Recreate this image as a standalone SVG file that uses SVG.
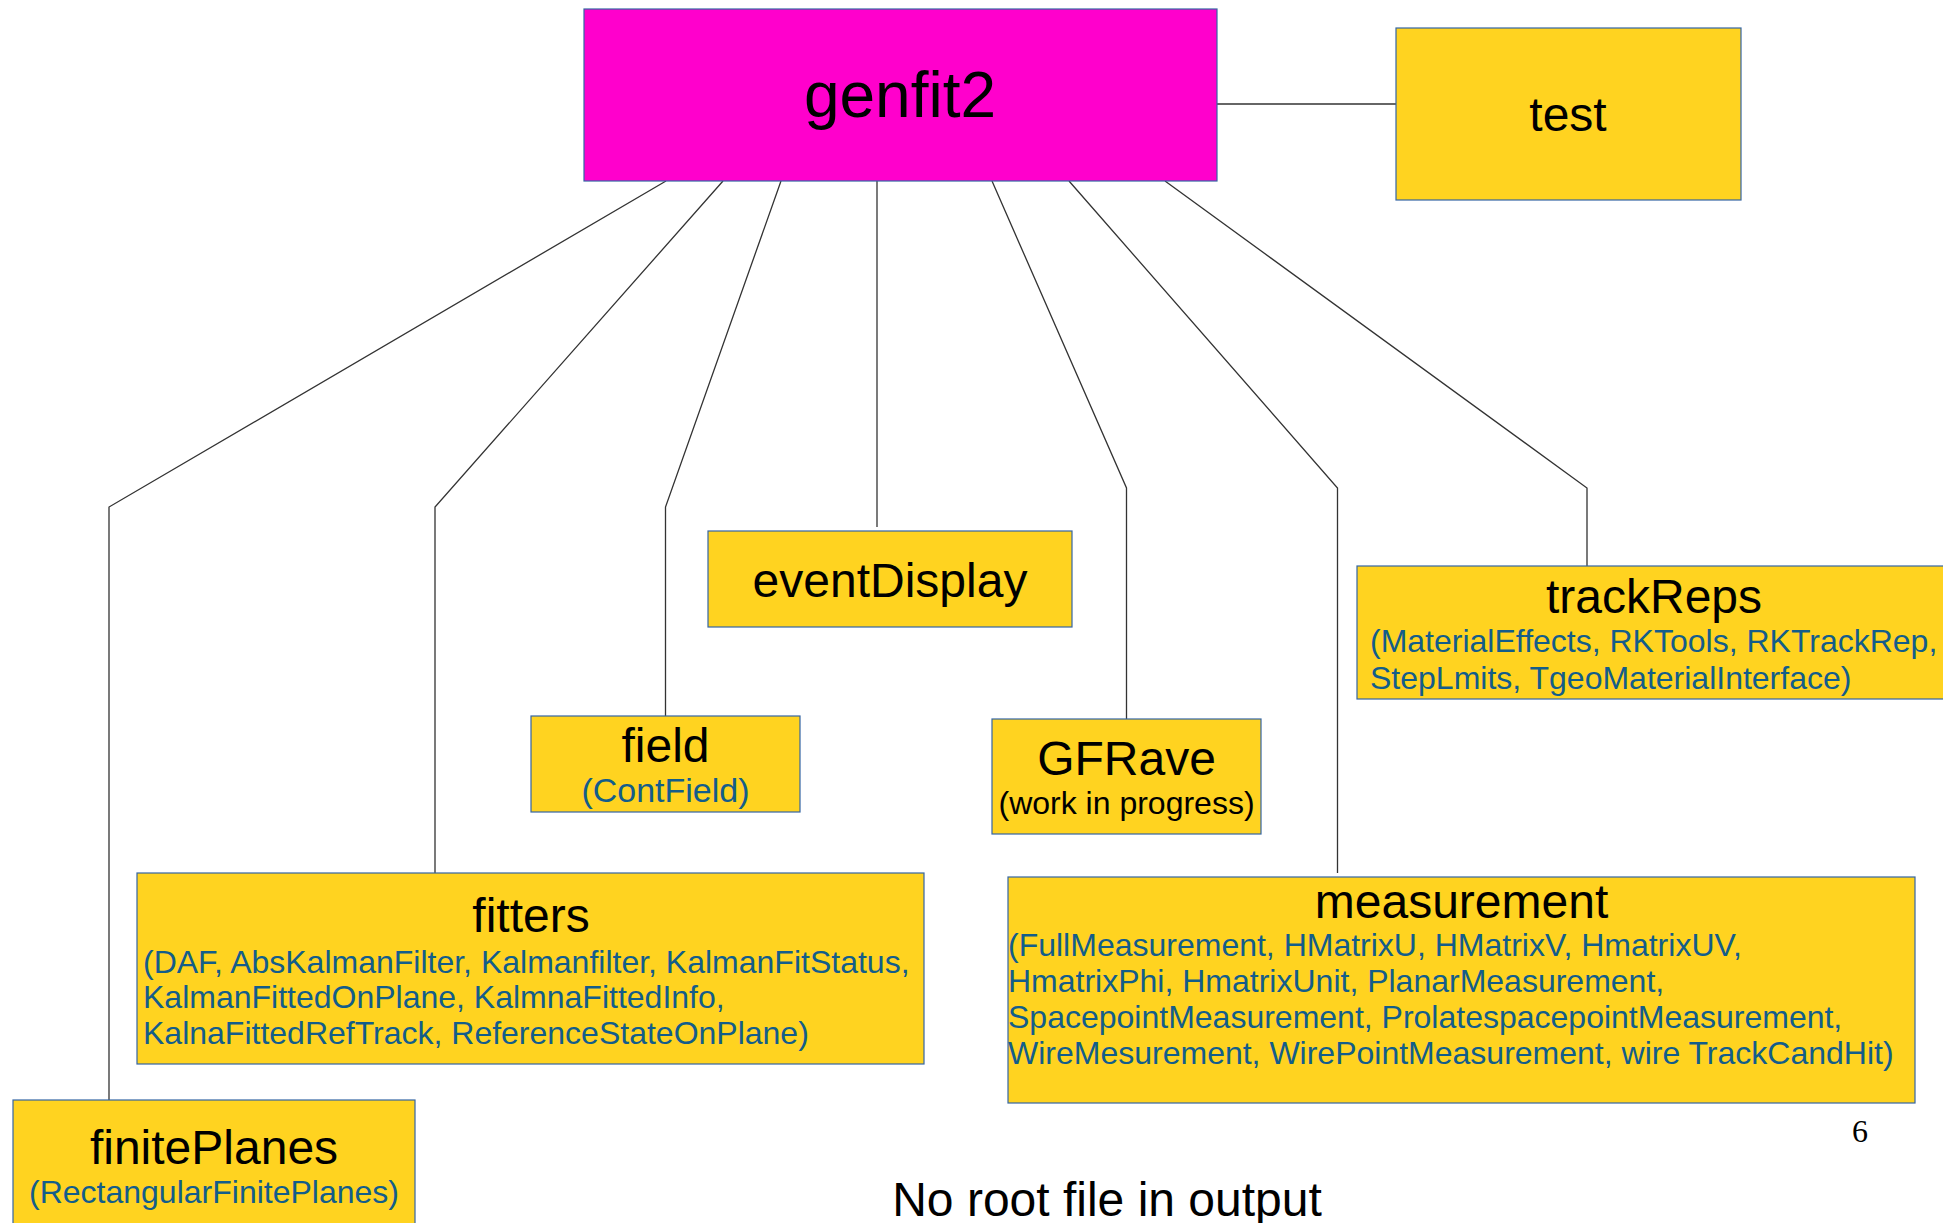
<svg xmlns="http://www.w3.org/2000/svg" width="1943" height="1223" viewBox="0 0 1943 1223">
<style>
  .box{fill:#ffd320;stroke:#3465a4;stroke-width:1.2}
  .root{fill:#ff00cc;stroke:#3465a4;stroke-width:1.2}
  .t{font-family:"Liberation Sans",Arial,sans-serif;fill:#000;text-anchor:middle;font-size:48px}
  .s{font-family:"Liberation Sans",Arial,sans-serif;fill:#135d8a;font-size:32px}
  .c{fill:none;stroke:#333;stroke-width:1.3}
</style>
<rect width="1943" height="1223" fill="#fff"/>
<g id="connectors">
  <polyline class="c" points="1217,104 1396,104"/>
  <polyline class="c" points="666,181 109,507 109,1100"/>
  <polyline class="c" points="723,181 435,507 435,873"/>
  <polyline class="c" points="781,181 665.5,507 665.5,716"/>
  <polyline class="c" points="877,181 877,527"/>
  <polyline class="c" points="992,181 1126.5,488 1126.5,719"/>
  <polyline class="c" points="1069,181 1337.5,488 1337.5,873"/>
  <polyline class="c" points="1165,181 1587,488 1587,566"/>
</g>
<g id="genfit2">
  <rect class="root" x="584" y="9" width="633" height="172"/>
  <text class="t" x="900" y="117" style="font-size:64px">genfit2</text>
</g>
<g id="test">
  <rect class="box" x="1396" y="28" width="345" height="172"/>
  <text class="t" x="1568" y="131">test</text>
</g>
<g id="eventDisplay">
  <rect class="box" x="708" y="531" width="364" height="96"/>
  <text class="t" x="890" y="597">eventDisplay</text>
</g>
<g id="trackReps">
  <rect class="box" x="1357" y="566" width="600" height="133"/>
  <text class="t" x="1654" y="613">trackReps</text>
  <text class="s" x="1370" y="652">(MaterialEffects, RKTools, RKTrackRep,</text>
  <text class="s" x="1370" y="689">StepLmits, TgeoMaterialInterface)</text>
</g>
<g id="field">
  <rect class="box" x="531" y="716" width="269" height="96"/>
  <text class="t" x="665.5" y="762">field</text>
  <text class="s" x="665.5" y="802" text-anchor="middle" style="font-size:34px">(ContField)</text>
</g>
<g id="GFRave">
  <rect class="box" x="992" y="719" width="269" height="115"/>
  <text class="t" x="1126.5" y="775">GFRave</text>
  <text class="t" x="1126.5" y="814" style="font-size:32px">(work in progress)</text>
</g>
<g id="fitters">
  <rect class="box" x="137" y="873" width="787" height="191"/>
  <text class="t" x="531" y="932">fitters</text>
  <text class="s" x="143" y="973">(DAF, AbsKalmanFilter, Kalmanfilter, KalmanFitStatus,</text>
  <text class="s" x="143" y="1008">KalmanFittedOnPlane, KalmnaFittedInfo,</text>
  <text class="s" x="143" y="1044">KalnaFittedRefTrack, ReferenceStateOnPlane)</text>
</g>
<g id="measurement">
  <rect class="box" x="1008" y="877" width="907" height="226"/>
  <text class="t" x="1461.5" y="918">measurement</text>
  <text class="s" x="1008" y="956">(FullMeasurement, HMatrixU, HMatrixV, HmatrixUV,</text>
  <text class="s" x="1008" y="992">HmatrixPhi, HmatrixUnit, PlanarMeasurement,</text>
  <text class="s" x="1008" y="1028">SpacepointMeasurement, ProlatespacepointMeasurement,</text>
  <text class="s" x="1008" y="1064">WireMesurement, WirePointMeasurement, wire TrackCandHit)</text>
</g>
<g id="finitePlanes">
  <rect class="box" x="13" y="1100" width="402" height="140"/>
  <text class="t" x="214" y="1164">finitePlanes</text>
  <text class="s" x="214" y="1203" text-anchor="middle">(RectangularFinitePlanes)</text>
</g>
<text x="1860" y="1142" font-family="'Liberation Serif',serif" font-size="32" text-anchor="middle">6</text>
<text class="t" x="1107" y="1216">No root file in output</text>
</svg>
